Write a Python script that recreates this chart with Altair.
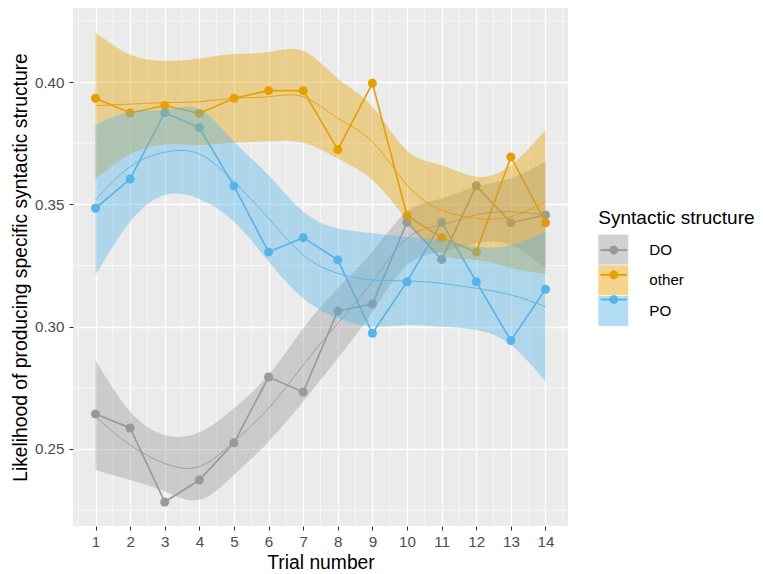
import altair as alt
import pandas as pd

# ---------------- data ----------------
trial = list(range(1, 15))
groups = ["DO", "other", "PO"]
colors = ["#999999", "#E69F00", "#56B4E9"]

do_vals = [0.2643, 0.2586, 0.2283, 0.2373, 0.2525, 0.2794, 0.2733,
           0.3064, 0.3093, 0.3427, 0.3275, 0.3576, 0.3425, 0.3457]
other_vals = [0.3934, 0.3874, 0.3904, 0.3872, 0.3934, 0.3965, 0.3965,
              0.3724, 0.3995, 0.3454, 0.3364, 0.3305, 0.3694, 0.3425]
po_vals = [0.3484, 0.3604, 0.3875, 0.3814, 0.3575, 0.3305, 0.3364,
           0.3273, 0.2973, 0.3184, 0.3427, 0.3184, 0.2943, 0.3153]

# smoothed fit and its confidence band
do_fit = [0.2632, 0.2516, 0.2441, 0.2428, 0.2530, 0.2666, 0.2843,
          0.3014, 0.3184, 0.3361, 0.3416, 0.3457, 0.3470, 0.3457]
do_lo = [0.2414, 0.2373, 0.2326, 0.2292, 0.2394, 0.2530, 0.2694,
         0.2871, 0.3061, 0.3252, 0.3306, 0.3341, 0.3334, 0.3239]
do_hi = [0.2864, 0.2653, 0.2557, 0.2568, 0.2666, 0.2803, 0.2993,
         0.3157, 0.3307, 0.3470, 0.3525, 0.3573, 0.3607, 0.3675]

other_fit = [0.3904, 0.3910, 0.3916, 0.3920, 0.3934, 0.3940, 0.3940,
             0.3852, 0.3756, 0.3579, 0.3477, 0.3443, 0.3450, 0.3511]
other_lo = [0.3604, 0.3705, 0.3745, 0.3743, 0.3752, 0.3758, 0.3752,
            0.3688, 0.3600, 0.3435, 0.3295, 0.3273, 0.3240, 0.3215]
other_hi = [0.4203, 0.4113, 0.4087, 0.4097, 0.4115, 0.4122, 0.4128,
            0.4015, 0.3900, 0.3720, 0.3660, 0.3613, 0.3660, 0.3805]

po_fit = [0.3518, 0.3654, 0.3713, 0.3706, 0.3593, 0.3443, 0.3293,
          0.3218, 0.3191, 0.3187, 0.3177, 0.3157, 0.3130, 0.3082]
po_lo = [0.3211, 0.3429, 0.3538, 0.3522, 0.3429, 0.3266, 0.3116,
         0.3034, 0.3000, 0.3007, 0.3000, 0.2987, 0.2925, 0.2775]
po_hi = [0.3825, 0.3879, 0.3887, 0.3889, 0.3757, 0.3620, 0.3470,
         0.3402, 0.3382, 0.3367, 0.3354, 0.3327, 0.3334, 0.3389]

x_major = trial
x_minor = [0.5, 1.5, 2.5, 3.5, 4.5, 5.5, 6.5, 7.5, 8.5, 9.5, 10.5,
           11.5, 12.5, 13.5, 14.5]
y_major = [0.25, 0.30, 0.35, 0.40]
y_minor = [0.225, 0.275, 0.325, 0.375, 0.425]

# ---------------- tables ----------------
vals = {"DO": do_vals, "other": other_vals, "PO": po_vals}
fits = {"DO": do_fit, "other": other_fit, "PO": po_fit}
los = {"DO": do_lo, "other": other_lo, "PO": po_lo}
his = {"DO": do_hi, "other": other_hi, "PO": po_hi}

rows = []
for g in groups:
    for i, t in enumerate(trial):
        rows.append({"trial": t, "structure": g, "band": g,
                     "value": vals[g][i], "fit": fits[g][i],
                     "lo": los[g][i], "hi": his[g][i]})
df = pd.DataFrame(rows)

FONT = "Liberation Sans"
XTITLE = "Trial number"
YTITLE = "Likelihood of producing specific syntactic structure"

xscale = alt.Scale(domain=[0.35, 14.65], nice=False, zero=False)
yscale = alt.Scale(domain=[0.2185, 0.4303], nice=False, zero=False)
xaxis = alt.Axis(values=x_major, format="d", labelPadding=4.5, titlePadding=4)
yaxis = alt.Axis(values=y_major, format=".2f", labelPadding=5, titlePadding=4)


def X(field):
    return alt.X(f"{field}:Q", scale=xscale, axis=xaxis, title=XTITLE)


def Y(field):
    return alt.Y(f"{field}:Q", scale=yscale, axis=yaxis, title=YTITLE)


color_scale = alt.Scale(range=colors)

LEG_X = 525.3
LEG_Y = 200.6
TITLE_FS = 19
TITLE_PAD = 7

band_legend = alt.Legend(
    orient="none", legendX=LEG_X, legendY=LEG_Y, padding=0,
    title="Syntactic structure", symbolType="square", symbolSize=900,
    symbolOpacity=0.45, symbolStrokeWidth=0, zindex=1,
    labelFontSize=15.2, labelColor="black", labelFont=FONT, labelOffset=21,
    rowPadding=0.7, titleFontSize=TITLE_FS, titleFontWeight="normal",
    titleColor="black", titleFont=FONT, titlePadding=TITLE_PAD,
)
key_path = ("M-0.87,-0.055H0.87V0.055H-0.87Z"
            "M0.29,0A0.29,0.29,0,1,1,-0.29,0A0.29,0.29,0,1,1,0.29,0Z")
line_legend = alt.Legend(
    orient="none", legendX=LEG_X, legendY=LEG_Y + TITLE_FS + TITLE_PAD,
    padding=0, title=None, symbolType=key_path, symbolSize=900,
    symbolOpacity=1, symbolStrokeWidth=0.3, zindex=2,
    labelExpr="''", labelFontSize=15.2, labelOffset=21, rowPadding=0.7,
)


def C():
    return alt.Color("structure:N", scale=color_scale, sort=groups,
                     legend=line_legend)


# ---------------- layers ----------------
minor_x = alt.Chart(pd.DataFrame({"trial": x_minor})).mark_rule(
    color="white", strokeWidth=0.6).encode(x=X("trial"))
minor_y = alt.Chart(pd.DataFrame({"value": y_minor})).mark_rule(
    color="white", strokeWidth=0.6).encode(y=Y("value"))

base = alt.Chart(df)

points = base.mark_circle(size=82, opacity=1).encode(
    x=X("trial"), y=Y("value"), color=C(),
)
lines = base.mark_line(strokeWidth=1.6).encode(
    x=X("trial"), y=Y("value"), color=C(),
)

layers = [minor_x, minor_y, points, lines]
for g in groups:
    sub = base.transform_filter(alt.datum.structure == g)
    band = sub.mark_area(opacity=0.4, interpolate="natural").encode(
        x=X("trial"), y=Y("lo"), y2="hi:Q",
        fill=alt.Fill("band:N", scale=alt.Scale(range=colors), sort=groups,
                      legend=band_legend),
    )
    smooth = sub.mark_line(strokeWidth=0.9, interpolate="natural").encode(
        x=X("trial"), y=Y("fit"), color=C(),
    )
    layers += [band, smooth]

chart = alt.layer(*layers).properties(
    width=495, height=518,
    autosize=alt.AutoSizeParams(type="none"),
    padding={"left": 73, "top": 8, "right": 195, "bottom": 48},
    background="white",
).configure_view(
    fill="#EBEBEB", strokeWidth=0,
).configure_axis(
    grid=True, gridColor="white", gridWidth=1.3, domain=False,
    tickColor="#333333", tickSize=4, tickWidth=1.1,
    labelColor="#4D4D4D", labelFontSize=15.2, labelFont=FONT,
    titleColor="black", titleFontSize=19.3, titleFontWeight="normal",
    titleFont=FONT, labelOverlap=False,
)

chart.save("out.html", embed_options={"renderer": "svg", "actions": False})
